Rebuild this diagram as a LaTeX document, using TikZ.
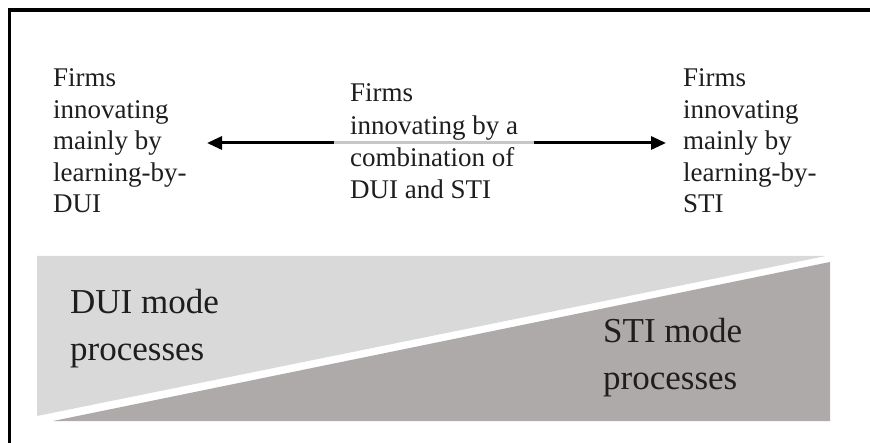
\documentclass[tikz,border=0pt]{standalone}
\usepackage{fontspec}
\setmainfont{Liberation Serif}
\usetikzlibrary{arrows.meta}
\definecolor{lightmode}{HTML}{D9D9D9}
\definecolor{darkmode}{HTML}{AEAAAA}
\definecolor{inktext}{HTML}{1E1E1E}
\begin{document}
\begin{tikzpicture}[x=1pt,y=-1pt,
  firmtext/.style={inner sep=0pt,align=left,anchor=base west,text=inktext,
    font=\fontsize{27}{31.5}\selectfont},
  modetext/.style={inner sep=0pt,align=left,anchor=base west,text=inktext,
    font=\fontsize{35}{47}\selectfont},
  spanarrow/.style={line width=3pt,black,
    {Triangle[length=15pt,width=13pt]}-{Triangle[length=15pt,width=13pt]}},
  frameline/.style={line width=3.5pt,black}]
\useasboundingbox (0,0) rectangle (870,443);

% frame: top and left edges
\draw[frameline] (9.5,443) -- (9.5,10) -- (870,10);

% wedges for the two modes
\fill[lightmode] (37,256) -- (826,256) -- (37,416) -- cycle;
\fill[darkmode] (53,421) -- (830,421) -- (830,262) -- cycle;

% firm types (anchored at the baseline of the last line)
\node[firmtext] (dui) at (53,213) {Firms\\innovating\\mainly by\\learning-by-\\DUI};
\node[firmtext] (sti) at (683,213) {Firms\\innovating\\mainly by\\learning-by-\\STI};

% arrow ends
\coordinate (lefttip) at (207,143);
\coordinate (righttip) at (666,143);
\draw[spanarrow] (lefttip) -- (righttip);

% combined mode, on a translucent white panel
\node[firmtext,fill=white,fill opacity=0.78,text opacity=1,
  inner xsep=16pt,inner ysep=16pt,
  font=\fontsize{27}{32.2}\selectfont] (mix) at (334,198.5)
  {Firms\\innovating by a\\combination of\\DUI and STI};

% mode labels
\node[modetext] (duimode) at (70,361) {DUI mode\\processes};
\node[modetext] (stimode) at (603,389) {STI mode\\processes};
\end{tikzpicture}
\end{document}
